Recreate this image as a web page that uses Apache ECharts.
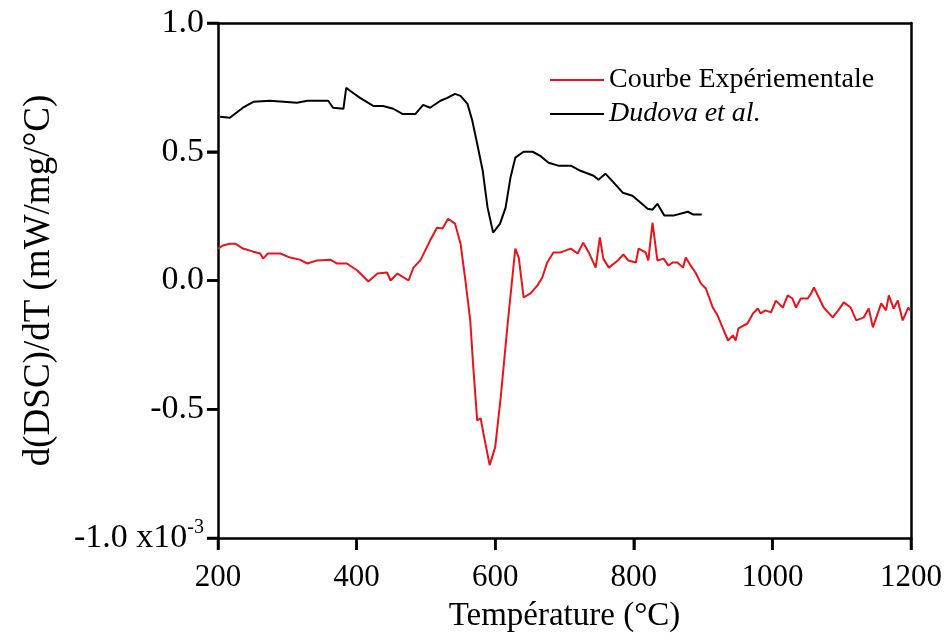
<!DOCTYPE html>
<html>
<head>
<meta charset="utf-8">
<script src="https://cdn.jsdelivr.net/npm/echarts@6/dist/echarts.min.js"></script>
<style>html,body{margin:0;padding:0;background:#fff}#c{width:948px;height:639px}</style>
</head>
<body>
<div id="c"></div>
<script>
// Temperature (°C) and d(DSC)/dT values
const expT = [200,207,217,225,236,251,261,265,272,290,304,318,329,343,362,372,386,401,417,430,444,449,459,475,482,492,506,516,524,532,542,550,557,564,568,574,579,583,592,600,608,618,629,634,641,651,661,668,675,684,694,709,719,727,735,745,751,756,764,777,785,792,803,807,817,821,827,834,843,850,856,863,871,875,882,889,897,904,914,921,928,936,943,947,951,964,972,979,983,990,998,1005,1015,1022,1029,1034,1041,1051,1056,1060,1067,1074,1087,1095,1103,1113,1121,1132,1139,1145,1157,1164,1168,1175,1181,1188,1196,1199];
const expV = [0.124,0.136,0.143,0.143,0.124,0.112,0.105,0.085,0.105,0.105,0.089,0.081,0.066,0.078,0.081,0.066,0.066,0.039,-0.004,0.027,0.031,0.000,0.027,0.000,0.050,0.078,0.155,0.205,0.202,0.240,0.221,0.143,0.000,-0.155,-0.322,-0.543,-0.535,-0.593,-0.717,-0.647,-0.453,-0.167,0.124,0.089,-0.066,-0.050,-0.019,0.012,0.070,0.109,0.109,0.124,0.105,0.147,0.109,0.050,0.167,0.085,0.050,0.078,0.101,0.078,0.070,0.124,0.109,0.078,0.225,0.078,0.085,0.058,0.070,0.070,0.050,0.089,0.058,0.031,-0.012,-0.031,-0.105,-0.136,-0.182,-0.233,-0.213,-0.233,-0.186,-0.167,-0.128,-0.109,-0.128,-0.116,-0.124,-0.078,-0.105,-0.058,-0.070,-0.105,-0.070,-0.070,-0.050,-0.027,-0.066,-0.105,-0.143,-0.116,-0.085,-0.105,-0.155,-0.143,-0.109,-0.182,-0.089,-0.116,-0.058,-0.109,-0.078,-0.155,-0.105,-0.116];
const dudT = [203,217,236,251,275,314,329,359,366,381,385,391,405,424,438,453,466,485,496,506,521,531,542,550,560,567,574,582,589,597,607,615,622,629,641,654,665,677,691,709,723,742,749,759,771,784,798,810,820,827,834,844,857,878,886,898];
const dudV = [0.636,0.632,0.671,0.694,0.698,0.690,0.698,0.698,0.671,0.667,0.748,0.736,0.709,0.678,0.678,0.667,0.647,0.647,0.682,0.671,0.698,0.709,0.725,0.717,0.686,0.620,0.531,0.426,0.283,0.186,0.221,0.283,0.399,0.477,0.500,0.500,0.484,0.457,0.446,0.446,0.426,0.407,0.391,0.415,0.380,0.341,0.329,0.302,0.279,0.275,0.298,0.252,0.252,0.267,0.256,0.256];
const xTicks = [200,400,600,800,1000,1200];
const yTicks = [-1.0,-0.5,0.0,0.5,1.0];
const seriesNames = ['Courbe Expériementale','Dudova et al.'];
const xTitle = 'Température (°C)';
const yTitle = 'd(DSC)/dT (mW/mg/°C)';

const FONT = '"Liberation Serif", "DejaVu Serif", serif';
const zip = (a,b) => a.map((v,i)=>[v,b[i]]);
const LW = 2.5;
const X0 = xTicks[0], X1 = xTicks[xTicks.length-1];
const Y0 = yTicks[0], Y1 = yTicks[yTicks.length-1];
const frameAxis = (extra) => Object.assign({
  type:'value', axisLine:{show:true,onZero:false,lineStyle:{color:'#000',width:LW}},
  axisTick:{show:false}, axisLabel:{show:false}, splitLine:{show:false}
}, extra);
const chart = echarts.init(document.getElementById('c'), null, {renderer:'canvas'});
chart.setOption({
  animation:false,
  backgroundColor:'#fff',
  grid:{left:218,right:37,top:23,bottom:101,show:false,outerBoundsMode:'none',containLabel:false},
  legend:{
    left:545, top:59, orient:'vertical', icon:'rect', itemWidth:54, itemHeight:2, itemGap:2,
    textStyle:{fontFamily:FONT,fontSize:28,color:'#000',lineHeight:32,
      rich:{i:{fontFamily:FONT,fontSize:28,fontStyle:'italic',color:'#000',lineHeight:32}}},
    formatter: n => n === seriesNames[1] ? '{i|' + n + '}' : n,
    data: seriesNames
  },
  xAxis:[{
    type:'value', position:'bottom', min:X0, max:X1, interval:200,
    name:xTitle, nameLocation:'middle', nameGap:62,
    nameTextStyle:{fontFamily:FONT,fontSize:33,color:'#000'},
    axisLine:{show:true,onZero:false,lineStyle:{color:'#000',width:LW}},
    axisTick:{show:true,inside:false,length:12,lineStyle:{color:'#000',width:LW}},
    axisLabel:{show:true,fontFamily:FONT,fontSize:31,color:'#000',margin:24,formatter:v=>String(v)},
    splitLine:{show:false}
  }, frameAxis({position:'top', min:X0, max:X1})],
  yAxis:[{
    type:'value', position:'left', min:Y0, max:Y1, interval:0.5,
    name:yTitle, nameLocation:'middle', nameGap:160, nameRotate:90,
    nameTextStyle:{fontFamily:FONT,fontSize:37,color:'#000'},
    axisLine:{show:true,onZero:false,lineStyle:{color:'#000',width:LW}},
    axisTick:{show:true,inside:false,length:11,lineStyle:{color:'#000',width:LW}},
    axisLabel:{show:true,fontFamily:FONT,fontSize:34,color:'#000',margin:14,
      formatter: v => v === -1 ? '{n|-1.0 x10}{s|-3}' : v.toFixed(1),
      rich:{n:{fontFamily:FONT,fontSize:34,color:'#000'},
            s:{fontFamily:FONT,fontSize:20,color:'#000',padding:[0,0,20,0]}}},
    splitLine:{show:false}
  }, frameAxis({position:'right', min:Y0, max:Y1})],
  series:[
    {name:seriesNames[0],type:'line',data:zip(expT,expV),symbol:'none',
      lineStyle:{color:'#e8141a',width:2},itemStyle:{color:'#e8141a'},z:3},
    {name:seriesNames[1],type:'line',data:zip(dudT,dudV),symbol:'none',
      lineStyle:{color:'#000',width:2},itemStyle:{color:'#000'},z:2}
  ]
});
// outward tick marks, positioned through the chart's own axis scales
const tickEls = [];
xTicks.forEach(t => {
  const p = chart.convertToPixel({xAxisIndex:0, yAxisIndex:0}, [t, Y0]);
  tickEls.push({type:'line', z:100, silent:true,
    shape:{x1:p[0], y1:p[1], x2:p[0], y2:p[1] + 12},
    style:{stroke:'#000', lineWidth:LW}});
});
yTicks.forEach(t => {
  const p = chart.convertToPixel({xAxisIndex:0, yAxisIndex:0}, [X0, t]);
  tickEls.push({type:'line', z:100, silent:true,
    shape:{x1:p[0] - 11, y1:p[1], x2:p[0], y2:p[1]},
    style:{stroke:'#000', lineWidth:LW}});
});
chart.setOption({graphic:{elements:tickEls}});
</script>
</body>
</html>
